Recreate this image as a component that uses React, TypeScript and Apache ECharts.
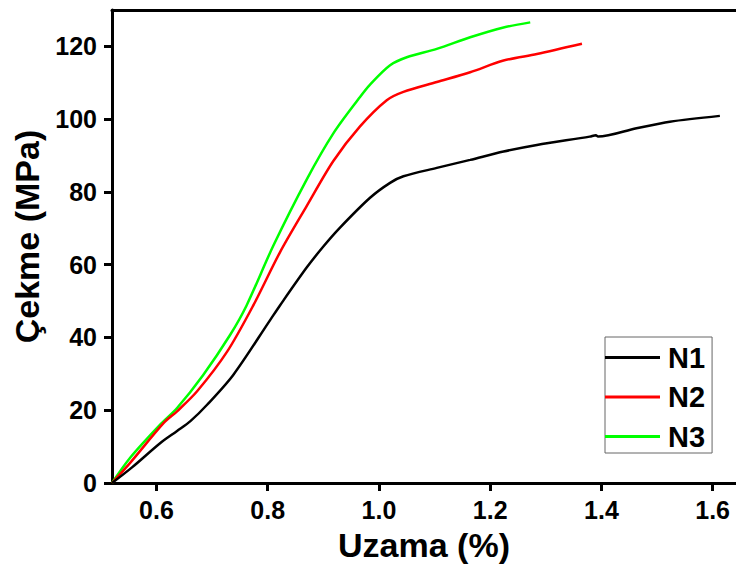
import React, { useEffect, useRef } from "react";
import * as echarts from "echarts";

const seriesNames = ["N1", "N2", "N3"];
const seriesColors = ["#000000", "#ff0000", "#00ff00"];

const xN1 = [0.52, 0.556, 0.607, 0.637, 0.661, 0.691, 0.738, 0.804, 0.822, 0.870, 0.900, 0.930, 0.984, 1.020, 1.044, 1.104, 1.164, 1.224, 1.284, 1.379, 1.390, 1.394, 1.463, 1.523, 1.613];
const yN1 = [0, 4.3, 11.0, 14.3, 17.0, 21.5, 29.7, 44.7, 48.8, 59.2, 65.0, 70.2, 78.4, 82.5, 84.3, 86.6, 88.8, 91.1, 92.9, 95.2, 95.6, 95.2, 97.5, 99.3, 100.9];

const xN2 = [0.52, 0.553, 0.613, 0.637, 0.673, 0.727, 0.774, 0.822, 0.870, 0.918, 0.966, 1.014, 1.044, 1.104, 1.164, 1.224, 1.284, 1.365];
const yN2 = [0, 5.6, 16.5, 19.7, 25.2, 36.1, 48.8, 63.4, 76.1, 88.5, 98.0, 105.2, 107.5, 110.2, 112.9, 116.1, 117.9, 120.7];

const xN3 = [0.52, 0.553, 0.607, 0.637, 0.684, 0.732, 0.762, 0.810, 0.870, 0.918, 0.966, 0.984, 1.020, 1.050, 1.104, 1.164, 1.224, 1.272];
const yN3 = [0, 7.0, 16.1, 20.6, 29.7, 40.6, 48.8, 65.2, 83.4, 96.1, 106.1, 109.5, 114.8, 117.0, 119.3, 122.5, 125.2, 126.6];

const xTicks = [0.6, 0.8, 1.0, 1.2, 1.4, 1.6];
const yTicks = [0, 20, 40, 60, 80, 100, 120];

const xAxisTitle = "Uzama (%)";
const yAxisTitle = "Çekme (MPa)";

const FONT = "'Liberation Sans', Arial, sans-serif";

function pairs(xs: number[], ys: number[]) {
  return xs.map((x, i) => [x, ys[i]]);
}

export default function App() {
  const ref = useRef<HTMLDivElement>(null);
  useEffect(() => {
    if (!ref.current) return;
    const chart = echarts.init(ref.current, undefined, { renderer: "svg" });
    const allX = [xN1, xN2, xN3];
    const allY = [yN1, yN2, yN3];
    chart.setOption({
      animation: false,
      backgroundColor: "#ffffff",
      grid: { left: 112, right: 0, top: 10, bottom: 81, containLabel: false },
      legend: {
        orient: "vertical",
        left: 605,
        top: 337,
        padding: [6, 7, 2, 0],
        itemGap: 10.5,
        itemWidth: 55,
        itemHeight: 3,
        icon: "rect",
        borderColor: "#666666",
        borderWidth: 1,
        data: seriesNames,
        textStyle: {
          fontFamily: FONT,
          fontSize: 29,
          fontWeight: "bold",
          color: "#000",
          lineHeight: 28,
          padding: [0, 0, 0, 3],
        },
      },
      xAxis: [
        {
          type: "value",
          min: 0.52,
          max: 1.642,
          name: xAxisTitle,
          nameLocation: "middle",
          nameGap: 45,
          nameTextStyle: { fontFamily: FONT, fontSize: 34, fontWeight: "bold", color: "#000" },
          splitLine: { show: false },
          axisLine: { show: true, onZero: false, lineStyle: { color: "#000", width: 3 } },
          axisTick: { show: true, inside: false, length: 8, customValues: xTicks, lineStyle: { color: "#000", width: 3 } },
          axisLabel: {
            customValues: xTicks,
            margin: 14,
            formatter: (v: number) => v.toFixed(1),
            fontFamily: FONT,
            fontSize: 25,
            fontWeight: "bold",
            color: "#000",
          },
        },
        {
          type: "value",
          position: "top",
          min: 0.52,
          max: 1.642,
          splitLine: { show: false },
          axisLine: { show: true, onZero: false, lineStyle: { color: "#000", width: 3 } },
          axisTick: { show: false },
          axisLabel: { show: false },
        },
      ],
      yAxis: {
        type: "value",
        min: 0,
        max: 130,
        name: yAxisTitle,
        nameLocation: "middle",
        nameGap: 62,
        nameTextStyle: { fontFamily: FONT, fontSize: 34, fontWeight: "bold", color: "#000", padding: [0, 0, 0, 20] },
        splitLine: { show: false },
        axisLine: { show: true, onZero: false, lineStyle: { color: "#000", width: 3 } },
        axisTick: { show: true, inside: false, length: 8, customValues: yTicks, lineStyle: { color: "#000", width: 3 } },
        axisLabel: {
          customValues: yTicks,
          margin: 15,
          fontFamily: FONT,
          fontSize: 25,
          fontWeight: "bold",
          color: "#000",
        },
      },
      series: seriesNames.map((name, i) => ({
        name,
        type: "line",
        xAxisIndex: 0,
        data: pairs(allX[i], allY[i]),
        symbol: "none",
        smooth: 0.3,
        color: seriesColors[i],
        lineStyle: { color: seriesColors[i], width: 2.5 },
        z: 3 - i,
      })),
    });
    return () => chart.dispose();
  }, []);
  return (
    <div
      ref={ref}
      style={{ position: "fixed", left: 0, top: 0, width: 736, height: 567, background: "#fff" }}
    />
  );
}
